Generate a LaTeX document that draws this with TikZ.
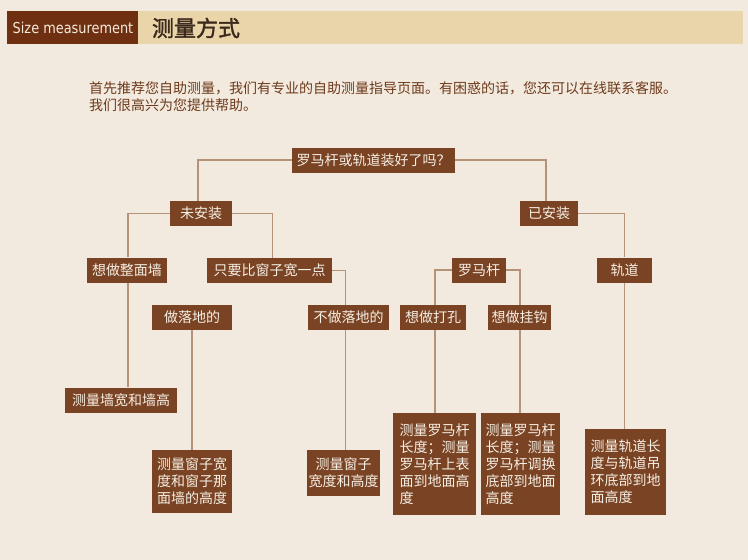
\documentclass[tikz,border=0pt]{standalone}
\usepackage{fontspec}
\usepackage{graphicx}
\newfontfamily\cjk{Noto Sans CJK SC}
\newfontfamily\cjktitle[FakeBold=1.6]{Noto Sans CJK SC}
\newfontfamily\hdfont{DejaVu Sans}
\usetikzlibrary{positioning}
\definecolor{PageBg}{HTML}{F2EADE}
\definecolor{HeadTan}{HTML}{EAD4AA}
\definecolor{HeadBrown}{HTML}{6F3012}
\definecolor{BoxBrown}{HTML}{7A4324}
\definecolor{BoxText}{HTML}{F6EFE4}
\definecolor{LinkTan}{HTML}{B59379}
\definecolor{BodyBrown}{HTML}{6E3A1C}
\definecolor{TitleDark}{HTML}{3B2A1C}

\begin{document}
\begin{tikzpicture}[x=1pt,y=-1pt,
  box/.style={fill=BoxBrown,text=BoxText,inner sep=0pt,minimum height=25pt,
    font=\cjk\fontsize{14}{17}\selectfont},
  link/.style={draw=LinkTan,line width=1.6pt}]
  \fill[PageBg] (0,0) rectangle (748,560);
  \fill[HeadTan] (138,11) rectangle (743,44);
  \fill[HeadBrown] (7,11) rectangle (138,44);
  \node[text=BoxText!85!HeadTan,font=\hdfont\fontsize{15}{17}\selectfont,inner sep=0pt]
    (hd) at (73,28) {\scalebox{0.86}[1]{Size measurement}};
  \node[text=TitleDark,font=\cjktitle\fontsize{22}{26}\selectfont,inner sep=0pt]
    (title) at (196,28) {测量方式};
  \node[text=BodyBrown,font=\cjk\fontsize{14}{17}\selectfont,anchor=north west,
    align=left,inner sep=0pt] (intro) at (89,81)
    {首先推荐您自助测量，我们有专业的自助测量指导页面。有困惑的话，您还可以在线联系客服。\\
     我们很高兴为您提供帮助。};

  \node[box,minimum width=163pt] (root) at (373.5,160) {罗马杆或轨道装好了吗？};
  \node[box,minimum width=62pt] (notyet) at (201,213.5) {未安装};
  \node[box,minimum width=58pt] (done) at (549,213.5) {已安装};
  \node[box,minimum width=80pt] (wall) at (127,270) {想做整面墙};
  \node[box,minimum width=125pt] (wider) at (269.5,270.5) {只要比窗子宽一点};
  \node[box,minimum width=80pt] (floor) at (192,317.5) {做落地的};
  \node[box,minimum width=81pt] (nofloor) at (348.5,317.5) {不做落地的};
  \node[box,minimum width=54pt] (roma) at (479,270) {罗马杆};
  \node[box,minimum width=66pt] (hole) at (433,317.5) {想做打孔};
  \node[box,minimum width=63pt] (hook) at (519.5,317.5) {想做挂钩};
  \node[box,minimum width=55pt] (rail) at (624.5,270) {轨道};

  \node[box,minimum width=112pt] (wallres) at (121,400) {测量墙宽和墙高};
  \node[box,text width=70pt,align=left,minimum width=80pt,minimum height=63pt]
    (floorres) at (192,481.5) {测量窗子宽\\度和窗子那\\面墙的高度};
  \node[box,text width=70pt,align=center,minimum width=73pt,minimum height=46pt]
    (winres) at (343.5,473) {测量窗子\\宽度和高度};
  \node[box,text width=70pt,align=left,minimum width=83pt,minimum height=102pt]
    (holeres) at (434.5,464) {测量罗马杆\\长度；测量\\罗马杆上表\\面到地面高\\度};
  \node[box,text width=70pt,align=left,minimum width=79pt,minimum height=102pt]
    (hookres) at (520.5,464) {测量罗马杆\\长度；测量\\罗马杆调换\\底部到地面\\高度};
  \node[box,text width=70pt,align=left,minimum width=81pt,minimum height=86pt]
    (railres) at (625.5,472) {测量轨道长\\度与轨道吊\\环底部到地\\面高度};

  \draw[link] (root.west) -| ([xshift=-3pt]notyet.north);
  \draw[link] (root.east) -| ([xshift=-3pt]done.north);
  \draw[link] (notyet.west) -| ([xshift=1pt]wall.north);
  \draw[link] (notyet.east) -| ([xshift=3pt]wider.north);
  \draw[link] (wider.east) -| ([xshift=-3pt]nofloor.north);
  \draw[link] ([xshift=1pt]wall.south) -- ([xshift=1pt]wall.south |- wallres.north);
  \draw[link] (floor.south) -- (floorres.north);
  \draw[link] ([xshift=-3pt]nofloor.south) -- ([xshift=-3pt]nofloor.south |- winres.north);
  \draw[link] (done.east) -| (rail.north);
  \draw[link] (roma.west) -| ([xshift=2pt]hole.north);
  \draw[link] (roma.east) -| ([xshift=0.5pt]hook.north);
  \draw[link] ([xshift=2pt]hole.south) -- ([xshift=2pt]hole.south |- holeres.north);
  \draw[link] ([xshift=0.5pt]hook.south) -- ([xshift=0.5pt]hook.south |- hookres.north);
  \draw[link] (rail.south) -- (rail.south |- railres.north);
\end{tikzpicture}
\end{document}
